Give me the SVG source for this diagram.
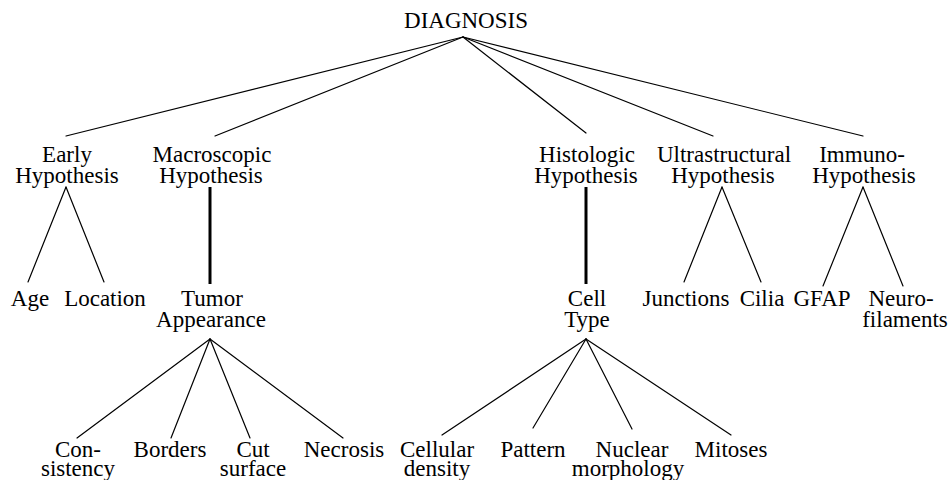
<svg xmlns="http://www.w3.org/2000/svg" width="950" height="480" viewBox="0 0 950 480">
<style>
text{font-family:'Liberation Serif','Tinos','DejaVu Serif',serif;font-size:23px;fill:#000;text-anchor:middle}
.e{stroke:#000;stroke-width:1.2;fill:none;stroke-linecap:round}
.t{stroke:#000;stroke-width:3;fill:none}
</style>
<rect width="950" height="480" fill="#fff"/>
<g id="connectors">
<line class="e" x1="463" y1="37" x2="66" y2="136"/>
<line class="e" x1="463" y1="37" x2="215" y2="136"/>
<line class="e" x1="463" y1="37" x2="586" y2="133"/>
<line class="e" x1="463" y1="37" x2="713" y2="136"/>
<line class="e" x1="463" y1="37" x2="863" y2="136"/>
<line class="e" x1="66" y1="187" x2="28" y2="282"/>
<line class="e" x1="66" y1="187" x2="104" y2="282"/>
<line class="t" x1="210" y1="187" x2="210" y2="284"/>
<line class="t" x1="586" y1="187" x2="586" y2="284"/>
<line class="e" x1="722" y1="187" x2="684" y2="282"/>
<line class="e" x1="722" y1="187" x2="761" y2="282"/>
<line class="e" x1="863" y1="187" x2="823" y2="286"/>
<line class="e" x1="863" y1="187" x2="903" y2="286"/>
<line class="e" x1="210" y1="339" x2="77" y2="438"/>
<line class="e" x1="210" y1="339" x2="171" y2="438"/>
<line class="e" x1="210" y1="339" x2="250" y2="438"/>
<line class="e" x1="210" y1="339" x2="343" y2="438"/>
<line class="e" x1="586" y1="339" x2="442" y2="435"/>
<line class="e" x1="586" y1="339" x2="533" y2="428"/>
<line class="e" x1="586" y1="339" x2="632" y2="429"/>
<line class="e" x1="586" y1="339" x2="731" y2="435"/>
</g>
<g id="diagnosis"><text x="466" y="28">DIAGNOSIS</text></g>
<g id="early"><text x="67" y="162">Early</text><text x="67" y="183">Hypothesis</text></g>
<g id="macroscopic"><text x="212" y="162">Macroscopic</text><text x="211" y="183">Hypothesis</text></g>
<g id="histologic"><text x="587" y="162">Histologic</text><text x="586" y="183">Hypothesis</text></g>
<g id="ultrastructural"><text x="724" y="162">Ultrastructural</text><text x="723" y="183">Hypothesis</text></g>
<g id="immuno"><text x="862" y="162">Immuno-</text><text x="864" y="183">Hypothesis</text></g>
<g id="age"><text x="30" y="306">Age</text></g>
<g id="location"><text x="105" y="306">Location</text></g>
<g id="tumor"><text x="212" y="306">Tumor</text><text x="211" y="327">Appearance</text></g>
<g id="celltype"><text x="587" y="306">Cell</text><text x="587" y="327">Type</text></g>
<g id="junctions"><text x="686" y="306">Junctions</text></g>
<g id="cilia"><text x="762" y="306">Cilia</text></g>
<g id="gfap"><text x="822" y="306">GFAP</text></g>
<g id="neuro"><text x="901" y="306">Neuro-</text><text x="905" y="327">filaments</text></g>
<g id="consistency"><text x="78" y="457">Con-</text><text x="78" y="476">sistency</text></g>
<g id="borders"><text x="170" y="457">Borders</text></g>
<g id="cut"><text x="253" y="457">Cut</text><text x="253" y="476">surface</text></g>
<g id="necrosis"><text x="344" y="457">Necrosis</text></g>
<g id="cellular"><text x="437" y="457">Cellular</text><text x="437" y="476">density</text></g>
<g id="pattern"><text x="533" y="457">Pattern</text></g>
<g id="nuclear"><text x="632" y="457">Nuclear</text><text x="628" y="476">morphology</text></g>
<g id="mitoses"><text x="731" y="457">Mitoses</text></g>
</svg>
